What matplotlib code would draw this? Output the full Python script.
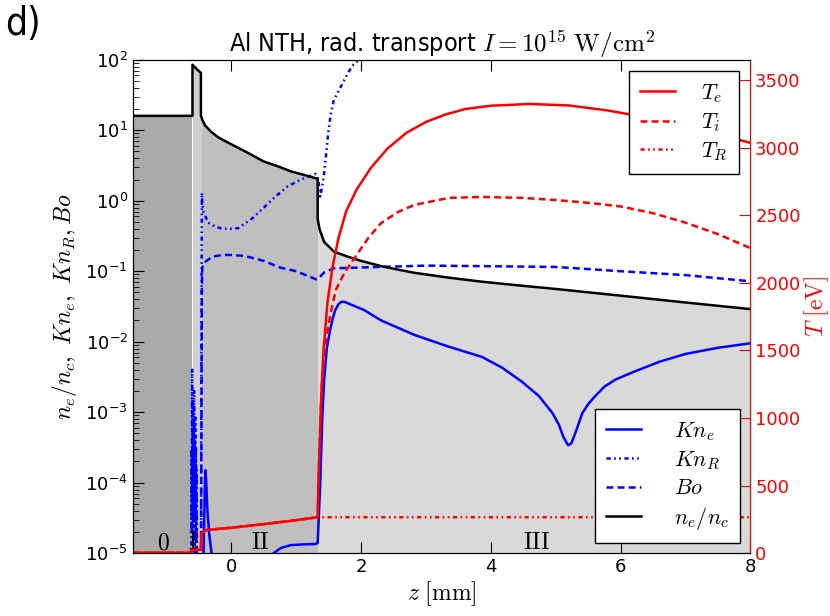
import numpy as np
import matplotlib
matplotlib.use("Agg")
import matplotlib.pyplot as plt
import matplotlib.transforms as mtransforms

plt.rcParams["mathtext.fontset"] = "cm"
plt.rcParams["font.family"] = "DejaVu Sans"
plt.rcParams["lines.scale_dashes"] = False

# region boundaries [mm] and labels
region_edges = [-1.52, -0.60, -0.47, 1.33, 8.0]
region_colors = ["#aaaaaa", "#d0d0d0", "#bfbfbf", "#d9d9d9"]
region_labels = ["0", "I", "II", "III"]
region_label_z = [-1.05, -0.60, 0.45, 4.71]

# electron density n_e/n_c
z_ne = [-1.52, -0.60, -0.60, -0.53, -0.47, -0.47, -0.44, -0.40, -0.30, -0.20, 0.0, 0.25,
        0.5, 0.75, 0.92, 1.1, 1.33, 1.33, 1.36, 1.43, 1.58, 1.80, 2.0, 2.31, 2.6, 2.82, 3.35,
        3.86, 4.5, 5.0, 6.0, 7.0, 8.0]
ne = [16, 16, 85, 73, 65, 16, 13.5, 11.5, 9.3, 7.9, 6.3, 4.8,
      3.6, 3.0, 2.6, 2.35, 2.05, 0.55, 0.39, 0.26, 0.19, 0.16, 0.14, 0.118, 0.104, 0.095, 0.081,
      0.071, 0.062, 0.056, 0.045, 0.036, 0.029]

# Knudsen number of electrons
z_kne = [-0.47, -0.43, -0.41, -0.40, -0.39, -0.37, -0.34, -0.30, -0.25, -0.15, 0.0, 0.3,
         0.55, 0.65, 0.76, 0.91, 1.10, 1.30, 1.33, 1.37, 1.40, 1.43, 1.47, 1.53, 1.56, 1.60,
         1.65, 1.70, 1.75, 1.80, 2.05, 2.31, 2.82, 3.35, 3.86, 4.17, 4.48, 4.74, 4.95, 5.05,
         5.12, 5.19, 5.24, 5.30, 5.41, 5.50, 5.61, 5.75, 5.92, 6.19, 6.6, 7.0, 7.5, 8.0]
kne = [1e-6, 1e-5, 8e-5, 1.5e-4, 1.1e-4, 4e-5, 1.8e-5, 9e-6, 5e-6, 3e-6, 2e-6, 2e-6,
       5e-6, 1e-5, 1.18e-5, 1.3e-5, 1.33e-5, 1.35e-5, 1.4e-5, 1e-4, 8e-4, 2.9e-3, 8e-3, 0.016, 0.021, 0.028,
       0.034, 0.037, 0.0365, 0.035, 0.028, 0.020, 0.0125, 0.0085, 0.0061, 0.0043, 0.0027, 0.0017, 9.7e-4, 6.6e-4,
       4.4e-4, 3.4e-4, 3.6e-4, 5e-4, 9.7e-4, 1.3e-3, 1.7e-3, 2.3e-3, 2.9e-3, 3.7e-3, 5.2e-3, 6.7e-3, 8.2e-3, 9.5e-3]

# radiative Knudsen number
z_knr = [-0.62, -0.615, -0.61, -0.605, -0.60, -0.595, -0.59, -0.585, -0.58, -0.575, -0.57,
         -0.565, -0.56, -0.555, -0.55, -0.545, -0.54, -0.535, -0.53, -0.52, -0.50, -0.47,
         -0.465, -0.46, -0.455, -0.45, -0.43, -0.36, -0.25, -0.14, 0.0, 0.11, 0.33, 0.50,
         0.68, 0.87, 1.07, 1.30, 1.34, 1.37, 1.40, 1.43, 1.46, 1.49, 1.53, 1.58, 1.69, 1.80,
         1.88, 2.0, 2.1]
knr = [1e-6, 3e-4, 2e-5, 4e-3, 5e-5, 1.5e-3, 1e-5, 8e-4, 3e-5, 2e-3, 1e-5,
       5e-4, 2e-5, 9e-4, 1.5e-5, 3e-4, 1e-5, 1.5e-4, 5e-6, 2e-6, 1e-6, 1e-6,
       1e-3, 0.05, 1.3, 0.9, 0.7, 0.49, 0.43, 0.40, 0.40, 0.41, 0.57, 0.8,
       1.15, 1.6, 2.0, 2.4, 2.0, 1.15, 1.6, 2.5, 4.5, 8.7, 16.6, 27, 42, 66,
       85, 105, 130]

# Bodo number
z_bo = [-0.47, -0.465, -0.46, -0.455, -0.45, -0.43, -0.3, -0.15, 0.0, 0.2, 0.5, 0.76,
        1.0, 1.30, 1.33, 1.43, 1.58, 2.3, 3.0, 3.86, 5.0, 6.0, 7.0, 8.0]
bo = [1e-6, 1e-4, 2e-3, 0.05, 0.11, 0.13, 0.16, 0.17, 0.17, 0.165, 0.14, 0.112,
      0.10, 0.077, 0.077, 0.096, 0.11, 0.115, 0.12, 0.118, 0.115, 0.10, 0.088, 0.072]

# temperatures [eV]
z_te = [-1.52, -0.62, -0.61, -0.47, -0.46, -0.40, -0.2, 0.0, 0.5, 1.0, 1.33, 1.34, 1.36,
        1.38, 1.42, 1.48, 1.56, 1.65, 1.77, 1.93, 2.15, 2.4, 2.7, 3.0, 3.3, 3.6, 4.0, 4.6,
        5.2, 5.8, 6.5, 7.2, 8.0]
te = [3, 3, 25, 25, 150, 170, 180, 188, 215, 244, 266, 500, 800,
      1100, 1500, 1850, 2120, 2330, 2530, 2690, 2850, 2990, 3110, 3190, 3245, 3285, 3310, 3323,
      3312, 3275, 3215, 3140, 3035]
z_ti = [-1.52, -0.62, -0.61, -0.47, -0.46, -0.40, -0.2, 0.0, 0.5, 1.0, 1.33, 1.34, 1.36,
        1.38, 1.40, 1.43, 1.47, 1.53, 1.61, 1.74, 1.95, 2.11, 2.31, 2.57, 2.82, 3.35, 3.86,
        4.5, 5.0, 5.5, 6.0, 6.5, 7.0, 7.5, 8.0]
ti = [3, 3, 25, 25, 150, 170, 180, 188, 215, 244, 266, 450, 800,
      1100, 1300, 1480, 1600, 1776, 1947, 2072, 2220, 2331, 2443, 2524, 2576, 2628, 2635,
      2628, 2612, 2592, 2565, 2515, 2445, 2360, 2257]
z_tr = [-1.52, -0.62, -0.61, -0.47, -0.46, -0.40, -0.2, 0.0, 0.5, 1.0, 1.33, 8.0]
tr = [3, 3, 25, 25, 150, 170, 180, 188, 215, 244, 266, 266]

fig = plt.figure(figsize=(8.3, 6.16), dpi=100)
ax1 = fig.add_axes([0.160, 0.102, 0.744, 0.801])
ax2 = ax1.twinx()

z_ne_a = np.array(z_ne)
for i in range(4):
    lo, hi = region_edges[i], region_edges[i + 1]
    mask = (z_ne_a >= lo) & (z_ne_a <= hi)
    ax1.fill_between(z_ne_a[mask], np.array(ne)[mask], 1e-6, color=region_colors[i], lw=0)

l_kne, = ax1.plot(z_kne, kne, color="blue", lw=1.8, label=r"$Kn_e$")
l_knr, = ax1.plot(z_knr, knr, color="blue", lw=1.8, dashes=(3, 2.5, 1.2, 2.5, 1.2, 2.5), label=r"$Kn_R$")
l_bo, = ax1.plot(z_bo, bo, color="blue", lw=1.8, dashes=(5, 3), label=r"$Bo$")
l_ne, = ax1.plot(z_ne, ne, color="black", lw=1.8, label=r"$n_e/n_c$")

l_te, = ax2.plot(z_te, te, color="red", lw=1.8, label=r"$T_e$")
l_ti, = ax2.plot(z_ti, ti, color="red", lw=1.8, dashes=(5, 3), label=r"$T_i$")
l_tr, = ax2.plot(z_tr, tr, color="red", lw=1.8, dashes=(3, 2.5, 1.2, 2.5, 1.2, 2.5), label=r"$T_R$")

ax1.set_yscale("log")
ax1.set_xlim(-1.52, 8)
ax1.set_ylim(1e-5, 1e2)
ax2.set_ylim(0, 3650)
ax1.set_xticks([0, 2, 4, 6, 8])
ax2.set_yticks([0, 500, 1000, 1500, 2000, 2500, 3000, 3500])

ax1.tick_params(which="both", direction="in", top=True, labelsize=13)
ax1.tick_params(which="major", length=8)
ax1.tick_params(which="minor", length=4)
ax2.tick_params(direction="in", length=8, labelsize=13, colors="red")
ax2.spines["right"].set_color("red")

ax1.set_xlabel(r"$z\ [\mathrm{mm}]$", fontsize=17, labelpad=2)
ax1.set_ylabel(r"$n_e/n_c,\ Kn_e,\ Kn_R,Bo$", fontsize=17)
ax2.set_ylabel(r"$T\ [\mathrm{eV}]$", fontsize=17, color="red", labelpad=1)
ax1.set_title(r"Al NTH, rad. transport $I=10^{15}\ \mathrm{W/cm^2}$", fontsize=18,
              fontstretch="condensed", pad=5)

trans = mtransforms.blended_transform_factory(ax1.transData, ax1.transAxes)
for lab, zl in zip(region_labels, region_label_z):
    ax1.text(zl, 0.008, r"$\mathrm{%s}$" % lab, transform=trans, ha="center", va="baseline", fontsize=17)

leg_kw = dict(fontsize=16, fancybox=False, edgecolor="black", framealpha=1,
              handlelength=1.55, handletextpad=1.2, borderpad=0.5, labelspacing=0.3)
leg1 = ax2.legend(handles=[l_te, l_ti, l_tr], loc="upper right", borderaxespad=0.5, **leg_kw)
leg1.get_frame().set_linewidth(1.0)
ax2.add_artist(leg1)
leg2 = ax2.legend(handles=[l_kne, l_knr, l_bo, l_ne], loc="lower right", borderaxespad=0.45,
                  **dict(leg_kw, handletextpad=1.5))
leg2.get_frame().set_linewidth(1.0)

fig.text(0.006, 0.992, "d)", fontsize=28, va="top", ha="left", fontstretch="condensed")

fig.savefig("out.png", dpi=100)
